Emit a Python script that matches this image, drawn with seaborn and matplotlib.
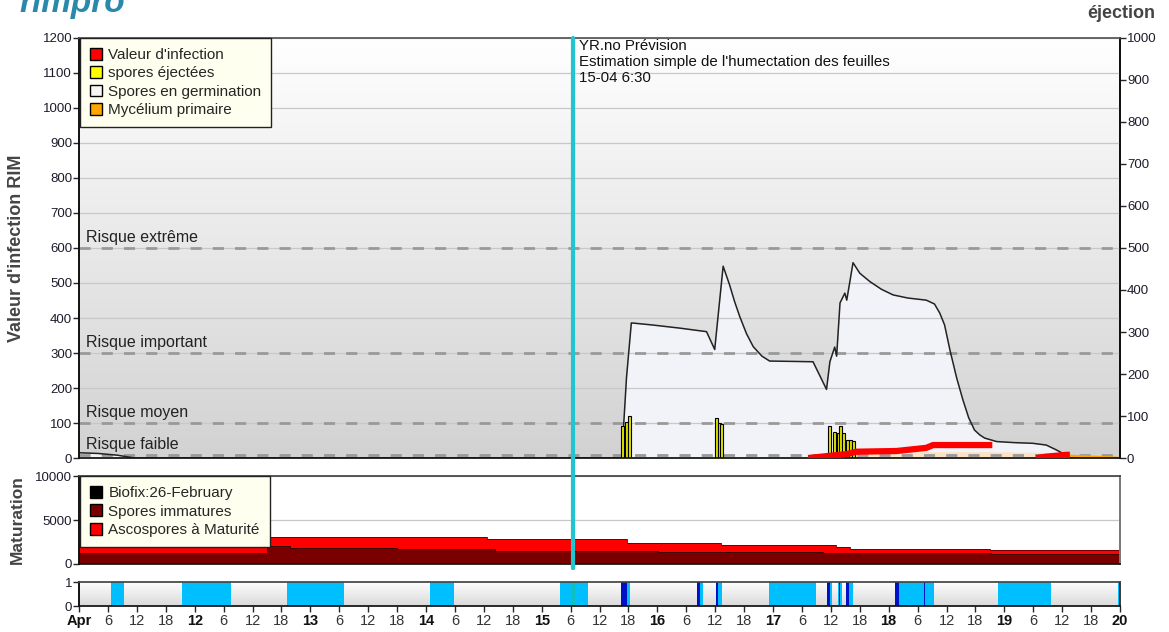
"""
Rimpro style scab infection chart: RIM infection value, ejected spores,
ascospore maturation and leaf wetness strip (11 - 20 April).
"""

import numpy as np
import matplotlib
matplotlib.use("Agg")
import matplotlib.pyplot as plt
import seaborn as sns
from matplotlib.colors import LinearSegmentedColormap
from matplotlib.patches import Patch

# =============================================================================
# Data (time axis in hours from 11-04 00:00)
# =============================================================================

NOW_HOUR = 102.5  # 15-04 6:30

day_labels = ["Apr", "12", "13", "14", "15", "16", "17", "18", "19", "20"]

# Spores en germination (left axis, RIM)
germ_hours = [0, 4, 8, 11.5, 112.6, 113.6, 114.6, 119.0, 124.7, 130.2,
              131.9, 133.65, 135.0, 136.0, 137.1, 138.5, 139.9, 141.7,
              143.3, 148.0, 152.3, 155.1, 155.8, 156.8, 157.2, 157.9,
              158.9, 159.3, 160.6, 162.0, 164.1, 166.5, 168.9, 172.0,
              175.8, 177.5, 178.6, 179.6, 180.7, 182.1, 183.4, 184.6,
              185.8, 186.9, 187.9, 190.4, 194.0, 197.9, 200.7, 202.8,
              204.3, 205.6, 206.8, 216]
germ_values = [15, 13, 8, 0, 0, 230, 386, 380, 371, 361,
               310, 548, 494, 448, 404, 355, 318, 291,
               277, 276, 275, 196, 275, 317, 291, 443,
               471, 451, 558, 528, 504, 482, 466, 457,
               451, 440, 414, 380, 309, 229, 166, 115,
               80, 66, 57, 47, 44, 42, 37, 23,
               12, 4, 0, 0]

# Valeur d'infection (left axis), NaN = no value
infect_hours = [151.3, 159.2, 161.3, 169.6, 175.8, 177.2, 186.9, 189.5,
                194.0, 198.6, 200.7, 204.9, 205.6]
infect_values = [0, 11, 18, 20, 29, 37, 37, 37,
                 np.nan, 0, 4, 9, 9]

# Mycélium primaire (left axis)
myc_hours = [156.0, 159.2, 190.0, 200.0, 204.0, 205.6, 208.0, 212.0, 215.5]
myc_values = [0, 18, 18, 16, 12, 6, 4, 2, 0]

# Spores éjectées (right axis, 0-1000)
eject_hours = [112.8, 113.5, 114.2, 132.3, 132.9, 133.4,
               155.7, 156.7, 157.5, 158.0, 158.6, 159.5, 160.1, 160.6]
eject_values = [76, 86, 100, 95, 84, 81,
                76, 61, 60, 76, 59, 43, 43, 40]

risk_levels = [10, 100, 300, 600]
risk_labels = ["Risque faible", "Risque moyen", "Risque important",
               "Risque extrême"]

# Maturation (step values)
mat_hours = [0, 39, 43.8, 65.9, 84.6, 86.3, 113.6, 120.2, 133.3,
             154.4, 157.0, 160.0, 189.0, 189.3, 216]
immature_values = [1280, 2045, 1856, 1700, 1700, 1515, 1515, 1400, 1400,
                   1250, 1250, 1250, 1250, 1100, 1100]
total_values = [3030, 3030, 3030, 3030, 2800, 2800, 2420, 2420, 2200,
                2200, 1970, 1740, 1550, 1550, 1550]

# Leaf wetness strip (start, end) in hours
wet_spans = [(6.6, 9.4), (21.3, 31.5), (43.2, 55.0), (72.8, 77.8),
             (99.8, 105.6), (112.4, 114.4), (128.3, 129.5), (132.1, 133.5),
             (143.2, 152.9), (155.2, 156.3), (157.4, 158.4), (159.2, 160.5),
             (169.3, 177.4), (190.7, 201.6), (215.6, 216.0)]
rain_spans = [(112.4, 113.7), (128.3, 128.8), (132.1, 132.6), (155.2, 155.8),
              (157.7, 158.0), (159.2, 159.8), (169.3, 170.2), (175.3, 175.6)]

# =============================================================================
# Style
# =============================================================================

sns.set_theme(style="white")
plt.rcParams["font.family"] = ["Liberation Sans", "DejaVu Sans"]
plt.rcParams["axes.edgecolor"] = "#222222"

LAVENDER = "#f2f2f9"
PEACH = "#fbe2c2"
CYAN = "#22c4d0"
RIGHT_SCALE = 1.2  # left units per right unit
TICK_COLOR = "#1c1c2c"

fig = plt.figure(figsize=(11.69, 6.32), dpi=100)

ax = fig.add_axes([0.0676, 0.2753, 0.8905, 0.6646])
ax_mat = fig.add_axes([0.0676, 0.1076, 0.8905, 0.1392], sharex=ax)
ax_wet = fig.add_axes([0.0676, 0.0411, 0.8905, 0.0380], sharex=ax)

# -----------------------------------------------------------------------------
# Main panel
# -----------------------------------------------------------------------------

bg = LinearSegmentedColormap.from_list("bg", ["#ffffff", "#d2d2d2"])
ax.imshow(np.linspace(0, 1, 256).reshape(-1, 1), cmap=bg, aspect="auto",
          extent=(0, 1, 0, 1), transform=ax.transAxes, zorder=0)

ax.fill_between(germ_hours, germ_values, color=LAVENDER, lw=0, zorder=1)
ax.fill_between(myc_hours, myc_values, color=PEACH, lw=0, zorder=1.1)

for level in risk_levels:
    ax.axhline(level, color="#999999", lw=2, dashes=(4, 4), zorder=1.6)

for level, label in zip(risk_levels, risk_labels):
    ax.annotate(label, xy=(0.0067, level),
                xycoords=ax.get_yaxis_transform(),
                xytext=(0, 2), textcoords="offset points",
                fontsize=11.5, color="#222222", va="bottom", ha="left")

sns.lineplot(x=germ_hours, y=germ_values, ax=ax, color="#222222", lw=1.1,
             zorder=2, estimator=None, sort=False)

myc_h = np.array(myc_hours)
myc_v = np.array(myc_values)
tail = myc_h >= 204
ax.plot(myc_h[tail], myc_v[tail], color="#ffa500", lw=2, zorder=2.1)

ax.bar(eject_hours, np.array(eject_values) * RIGHT_SCALE, width=0.62,
       color="#e2e200", edgecolor="black", lw=0.8, zorder=2.2)

ax.plot(infect_hours, infect_values, color="#ff0000", lw=4.5,
        solid_capstyle="butt", zorder=3)

ax.set_xlim(0, 216)
ax.set_ylim(0, 1200)
ax.set_yticks(range(0, 1201, 100))
ax.set_axisbelow("line")
ax.yaxis.grid(True, color="#c8c8c8", lw=0.9)
ax.tick_params(axis="y", left=True, length=4, width=1, labelsize=9.5,
               labelcolor=TICK_COLOR, pad=1)
ax.tick_params(axis="x", bottom=False, labelbottom=False)
ax.set_ylabel("Valeur d'infection RIM", fontsize=13, fontweight="bold",
              color="#444444")
ax.yaxis.set_label_coords(-0.052, 0.5)
for side in ["left", "bottom", "right"]:
    ax.spines[side].set_color("#111111")
ax.spines["left"].set_linewidth(1.4)
ax.spines["top"].set_color("#555555")

ax_right = ax.secondary_yaxis(
    "right",
    functions=(lambda y: y / RIGHT_SCALE, lambda y: y * RIGHT_SCALE),
)
ax_right.set_yticks(range(0, 1001, 100))
ax_right.tick_params(length=4, width=1, labelsize=9.5,
                     labelcolor=TICK_COLOR, pad=1)
ax_right.spines["right"].set_color("#111111")
ax_right.spines["right"].set_linewidth(1.4)

legend_kw = dict(
    loc="upper left", bbox_to_anchor=(0.001, 1.0), borderaxespad=0,
    fontsize=11, handlelength=0.8, handleheight=0.8, handletextpad=0.4,
    labelspacing=0.28, borderpad=0.65, fancybox=False, framealpha=1,
    facecolor="#fffff0", edgecolor="#222222",
)

legend_main = ax.legend(
    handles=[
        Patch(facecolor="#ff0000", edgecolor="black", label="Valeur d'infection"),
        Patch(facecolor="#ffff00", edgecolor="black", label="spores éjectées"),
        Patch(facecolor="#f6f6f6", edgecolor="black",
              label="Spores en germination"),
        Patch(facecolor="#ffa500", edgecolor="black", label="Mycélium primaire"),
    ],
    **legend_kw,
)
legend_main.get_frame().set_linewidth(1)
legend_main.set_zorder(5)

ax.axvline(NOW_HOUR, ymin=-0.262, ymax=1, color=CYAN, lw=3,
           clip_on=False, zorder=4)
ax.annotate("YR.no Prévision\nEstimation simple de l'humectation des feuilles"
            "\n15-04 6:30",
            xy=(NOW_HOUR, 1), xycoords=ax.get_xaxis_transform(),
            xytext=(4, -1), textcoords="offset points", va="top", ha="left",
            fontsize=10.8, linespacing=1.17, color="#111111", zorder=5)

# -----------------------------------------------------------------------------
# Maturation panel
# -----------------------------------------------------------------------------

ax_mat.set_facecolor("white")
ax_mat.fill_between(mat_hours, 0, total_values, step="post", color="#ff0000",
                    lw=0, zorder=1)
ax_mat.fill_between(mat_hours, 0, immature_values, step="post",
                    color="#7a0000", lw=0, zorder=1.1)
ax_mat.step(mat_hours, immature_values, where="post", color="#3a0000",
            lw=0.7, zorder=1.2)
ax_mat.step(mat_hours, total_values, where="post", color="#5a0000",
            lw=0.6, zorder=1.2)
ax_mat.set_ylim(0, 10000)
ax_mat.set_yticks([0, 5000, 10000])
ax_mat.set_axisbelow(True)
ax_mat.yaxis.grid(True, color="#c8c8c8", lw=0.9)
ax_mat.tick_params(axis="y", left=True, length=4, width=1, labelsize=9.5,
                   labelcolor=TICK_COLOR, pad=1)
ax_mat.tick_params(axis="x", bottom=False, labelbottom=False)
ax_mat.set_ylabel("Maturation", fontsize=12.5, fontweight="bold",
                  color="#444444")
ax_mat.yaxis.set_label_coords(-0.052, 0.5)
ax_mat.spines["right"].set_color("#777777")
ax_mat.spines["right"].set_linewidth(1.4)
ax_mat.axvline(NOW_HOUR, ymin=-0.045, ymax=1, color=CYAN, lw=3,
               clip_on=False, zorder=4)

legend_mat = ax_mat.legend(
    handles=[
        Patch(facecolor="black", edgecolor="black", label="Biofix:26-February"),
        Patch(facecolor="#7a0000", edgecolor="black", label="Spores immatures"),
        Patch(facecolor="#ff0000", edgecolor="black",
              label="Ascospores à Maturité"),
    ],
    **legend_kw,
)
legend_mat.get_frame().set_linewidth(1)
legend_mat.set_zorder(5)

# -----------------------------------------------------------------------------
# Leaf wetness strip
# -----------------------------------------------------------------------------

strip_bg = LinearSegmentedColormap.from_list("strip", ["#ffffff", "#dadada"])
ax_wet.imshow(np.linspace(0, 1, 64).reshape(-1, 1), cmap=strip_bg,
              aspect="auto", extent=(0, 1, 0, 1), transform=ax_wet.transAxes,
              zorder=0)
for start, end in wet_spans:
    ax_wet.axvspan(start, end, color="#00bfff", lw=0, zorder=1)
for start, end in rain_spans:
    ax_wet.axvspan(start, end, color="#0010c8", lw=0, zorder=1.1)
ax_wet.axvline(NOW_HOUR, color="#10c0c0", lw=3, zorder=2)

ax_wet.set_xlim(0, 216)
ax_wet.set_ylim(0, 1)
ax_wet.set_yticks([0, 1])
ax_wet.tick_params(axis="y", left=True, length=4, width=1, labelsize=9.5,
                   labelcolor=TICK_COLOR, pad=1)

tick_hours = list(range(0, 217, 6))
tick_text = []
for h in tick_hours:
    if h % 24 == 0:
        tick_text.append(day_labels[h // 24])
    else:
        tick_text.append(str(h % 24))
ax_wet.set_xticks(tick_hours)
ax_wet.set_xticklabels(tick_text)
ax_wet.tick_params(axis="x", bottom=True, length=4, width=1, labelsize=10.5,
                   labelcolor="#333333", pad=2)
for h, lbl in zip(tick_hours, ax_wet.get_xticklabels()):
    if h % 24 == 0:
        lbl.set_fontweight("bold")
        lbl.set_color("#111111")

for a in (ax_mat, ax_wet):
    a.spines["left"].set_color("#111111")
    a.spines["left"].set_linewidth(1.4)
    a.spines["bottom"].set_color("#111111")
    a.spines["top"].set_color("#444444")

# -----------------------------------------------------------------------------
# Header texts (the logo is cut by the top edge, as in the source image)
# -----------------------------------------------------------------------------

fig.text(0.017, 0.981, "rimpro", fontsize=24, fontweight="bold",
         fontstyle="italic", color="#2a88ab", va="baseline", ha="left")
fig.text(0.988, 0.971, "éjection", fontsize=13, fontweight="bold",
         color="#444444", va="baseline", ha="right")

fig.savefig("out.png", dpi=100)
